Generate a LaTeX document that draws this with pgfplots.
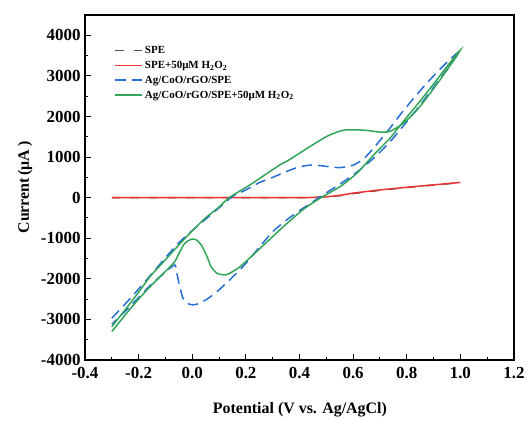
\documentclass[border=0pt]{standalone}
\usepackage{fontspec}
\setmainfont{Liberation Serif}
\usepackage{pgfplots}
\pgfplotsset{compat=1.18}
\definecolor{cred}{RGB}{236,50,50}
\definecolor{cblue}{RGB}{40,110,215}
\definecolor{cgreen}{RGB}{50,165,90}
\definecolor{cgray}{RGB}{80,80,80}
\begin{document}
\begin{tikzpicture}
\begin{axis}[name=ax, at={(0,0)}, anchor=south west,
  width=429bp, height=345bp, scale only axis,
  xmin=-0.4, xmax=1.2, ymin=-4000, ymax=4500,
  xtick={-0.4,-0.2,0,0.2,0.4,0.6,0.8,1.0,1.2},
  ytick={-4000,-3000,-2000,-1000,0,1000,2000,3000,4000},
  minor x tick num=1, minor y tick num=1,
  tick align=inside, xtick pos=left, ytick pos=left,
  axis line style={line width=1.2bp},
  major tick length=6bp, minor tick length=3.5bp,
  every tick/.style={line width=1bp, black},
  /pgf/number format/assume math mode=true,
  xticklabel style={/pgf/number format/.cd, fixed, fixed zerofill, precision=1, /tikz/.cd, yshift=-4bp},
  yticklabel style={/pgf/number format/.cd, fixed, 1000 sep={}, /tikz/.cd, xshift=-1bp},
  ticklabel style={font=\bfseries\fontsize{17}{17}\selectfont},
  xlabel={Potential (V vs. Ag/AgCl)}, ylabel={Current\,(μA\,)},
  label style={font=\bfseries\fontsize{16}{16}\selectfont},
  xlabel style={at={(axis description cs:0.501,-0.145)}, anchor=center},
  ylabel style={at={(axis description cs:-0.14,0.5)}, anchor=center},
  legend style={at={(axis description cs:0.068,0.915)}, anchor=north west, draw=none, fill=none,
    font=\bfseries\fontsize{11}{13}\selectfont, inner sep=0pt, row sep=2bp},
  legend cell align=left,
  legend image code/.code={\draw[#1, line width=1.6bp] (0bp,0.3bp) -- (27bp,0.3bp);},
  every axis plot/.append style={line width=1.5bp, smooth, tension=0.4},
]
\addplot[cgray, dash pattern=on 8.5bp off 10bp] coordinates {
(-0.3,0) (0.0,0) (0.2,0) (0.4,0) (0.45,5) (0.5,20) (0.55,50) (0.6,100) (0.7,180) (0.8,250) (0.9,310) (1.0,370)
};
\addlegendentry{SPE}
\addplot[cred] coordinates {
(-0.3,0) (0.0,0) (0.2,0) (0.4,0) (0.45,5) (0.5,20) (0.55,55) (0.6,110) (0.7,190) (0.8,255) (0.9,315) (1.0,375)
};
\addlegendentry{SPE+50μM H\textsubscript{2}O\textsubscript{2}}
\addplot[cblue, dash pattern=on 10.5bp off 6bp] coordinates {
(-0.3,-2970) (-0.25,-2620) (-0.2,-2250) (-0.15,-1870) (-0.1,-1480) (-0.05,-1110) (0.0,-810) (0.05,-530) (0.1,-250) (0.15,30) (0.2,190) (0.25,370) (0.3,500) (0.35,640) (0.4,760) (0.45,805) (0.5,770) (0.55,740) (0.6,800) (0.64,960) (0.68,1250) (0.73,1650) (0.78,2080) (0.84,2560) (0.9,3000) (0.96,3400) (1.0,3620)
(0.95,3160) (0.9,2720) (0.85,2280) (0.8,1870) (0.75,1470) (0.7,1120) (0.65,820) (0.6,560) (0.55,330) (0.5,120) (0.45,-100) (0.4,-320) (0.35,-560) (0.3,-840) (0.25,-1220) (0.2,-1620) (0.15,-1960) (0.1,-2270) (0.06,-2480) (0.02,-2620) (0.0,-2640) (-0.02,-2600) (-0.035,-2470) (-0.048,-2150) (-0.058,-1850) (-0.065,-1660) (-0.1,-1830) (-0.15,-2120) (-0.2,-2460) (-0.25,-2800) (-0.3,-3120)
};
\addlegendentry{Ag/CoO/rGO/SPE}
\addplot[cgreen] coordinates {
(-0.3,-3180) (-0.25,-2760) (-0.2,-2330) (-0.157,-1943) (-0.1,-1530) (-0.032,-1037) (0.042,-543) (0.1,-230) (0.138,0) (0.217,321) (0.291,650) (0.33,820) (0.354,900) (0.38,1010) (0.441,1267) (0.503,1514) (0.565,1663) (0.64,1663) (0.703,1613) (0.74,1640) (0.79,1845) (0.84,2174) (0.889,2586) (0.952,3162) (1.0,3638)
(0.95,3230) (0.9,2800) (0.85,2380) (0.8,1980) (0.76,1650) (0.74,1480) (0.678,1062) (0.615,610) (0.553,279) (0.48,0) (0.416,-280) (0.341,-708) (0.254,-1243) (0.179,-1697) (0.135,-1880) (0.117,-1902) (0.092,-1861) (0.07,-1700) (0.055,-1449) (0.035,-1180) (0.015,-1040) (-0.001,-1021) (-0.02,-1080) (-0.032,-1161) (-0.05,-1380) (-0.07,-1614) (-0.157,-2191) (-0.22,-2650) (-0.3,-3300)
};
\addlegendentry{Ag/CoO/rGO/SPE+50μM H\textsubscript{2}O\textsubscript{2}}
\end{axis}
\pgfresetboundingbox
\path[use as bounding box] (-85bp,-61bp) rectangle (442bp,360bp);
\end{tikzpicture}
\end{document}
